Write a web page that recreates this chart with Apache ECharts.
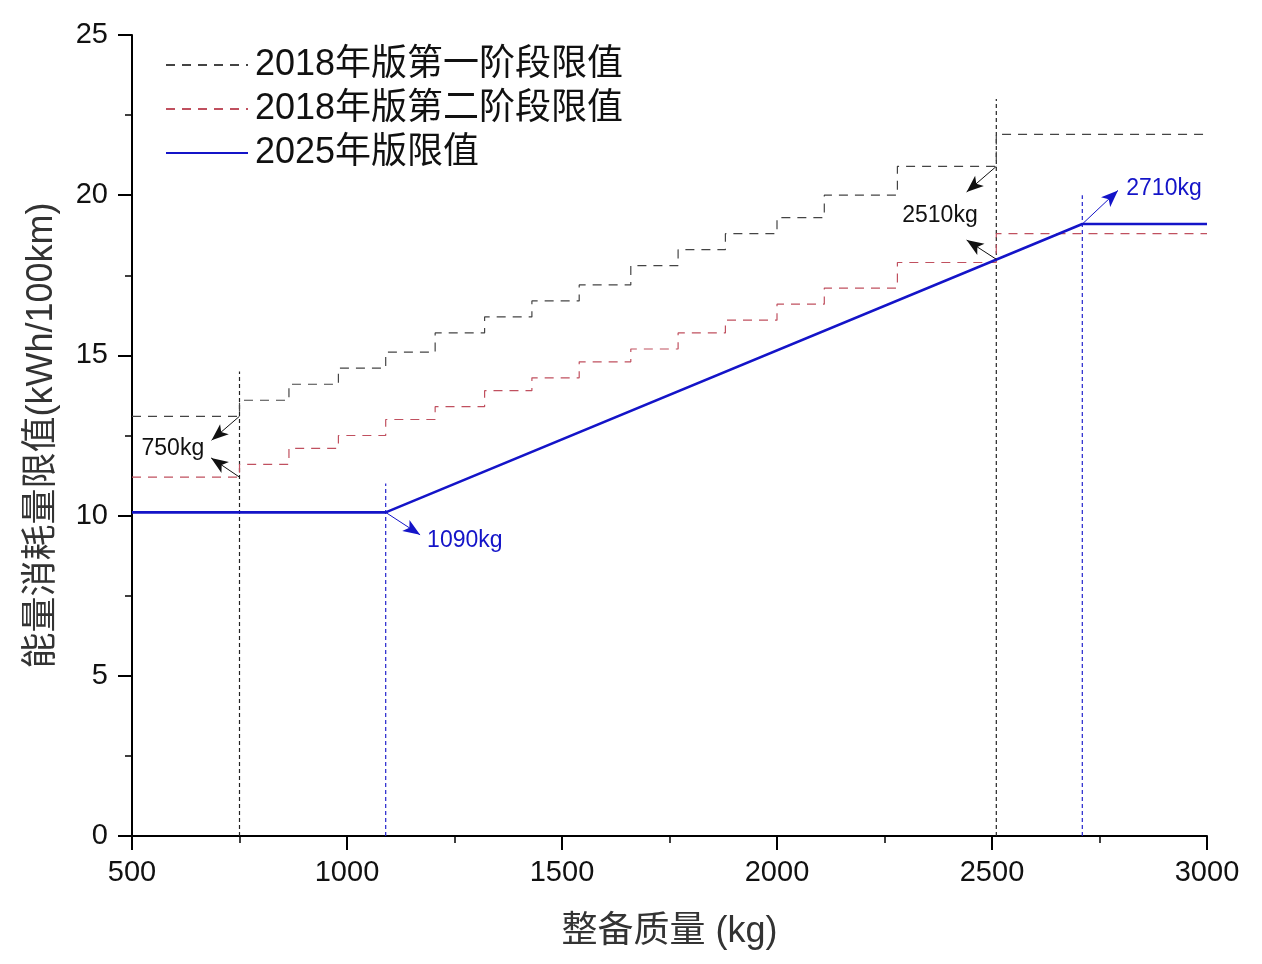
<!DOCTYPE html>
<html>
<head>
<meta charset="utf-8">
<script src="https://cdn.jsdelivr.net/npm/echarts@6/dist/echarts.min.js"></script>
<style>
  html, body { margin: 0; padding: 0; background: #fff; }
  #chart { width: 1262px; height: 964px; }
</style>
</head>
<body>
<div id="chart"></div>
<script>
// mass bin starts (kg), last value closes the axis
const massBreaks = [500, 750, 865, 980, 1090, 1205, 1320, 1430, 1540, 1660, 1770, 1880, 2000, 2110, 2280, 2510, 3000];
const stage1 = [13.1, 13.6, 14.1, 14.6, 15.1, 15.7, 16.2, 16.7, 17.2, 17.8, 18.3, 18.8, 19.3, 20.0, 20.9, 21.9, 21.9];
const stage2 = [11.2, 11.6, 12.1, 12.5, 13.0, 13.4, 13.9, 14.3, 14.8, 15.2, 15.7, 16.1, 16.6, 17.1, 17.9, 18.8, 18.8];

const mass2025 = [500, 1090, 2710, 3000];
const limit2025 = [10.1, 10.1, 19.1, 19.1];

// vertical marker lines
const refMass = [750, 1090, 2510, 2710];
const refTop = [14.5, 11.0, 23.0, 20.0];
const refColor = ['#222', '#2222cc', '#222', '#2222cc'];

// annotation arrows [fromX, fromY, toX, toY]
const arrowsBlack = [[750, 13.1, 685, 12.35], [750, 11.2, 684, 11.8], [2510, 20.9, 2441, 20.1], [2510, 18.0, 2441, 18.6]];
const arrowsBlue = [[1090, 10.1, 1170, 9.4], [2710, 19.1, 2793, 20.15]];

// annotation labels
const labelBlack = [[595, 12.08, '750kg'], [2379, 19.35, '2510kg']];
const labelBlue = [[1274, 9.21, '1090kg'], [2900, 20.2, '2710kg']];

const FONT = "'Liberation Sans', 'Noto Sans CJK SC', sans-serif";

const zip = (xs, ys) => xs.map((x, i) => [x, ys[i]]);

const refSeries = refMass.map((m, i) => ({
  type: 'line',
  silent: true,
  symbol: 'none',
  data: [[m, 0], [m, refTop[i]]],
  lineStyle: { color: refColor[i], width: 1.2, type: [4, 3] },
  z: 1
}));

function arrowSeries(list, color) {
  return {
    type: 'line',
    silent: true,
    symbol: 'none',
    data: [],
    markLine: {
      silent: true,
      symbol: ['none', 'arrow'],
      symbolSize: [10, 17],
      label: { show: false },
      lineStyle: { color: color, width: 1, type: 'solid' },
      data: list.map(a => [{ coord: [a[0], a[1]] }, { coord: [a[2], a[3]] }])
    }
  };
}

function labelSeries(list, color) {
  return {
    type: 'scatter',
    silent: true,
    symbolSize: 0,
    itemStyle: { opacity: 1 },
    data: list.map(l => [l[0], l[1]]),
    label: {
      show: true,
      position: 'inside',
      formatter: p => list[p.dataIndex][2],
      color: color,
      fontSize: 23,
      fontFamily: FONT
    }
  };
}

const chart = echarts.init(document.getElementById('chart'));
chart.setOption({
  animation: false,
  backgroundColor: '#fff',
  grid: { left: 132, right: 55, top: 35, bottom: 128 },
  legend: {
    orient: 'vertical',
    left: 160,
    top: 42,
    itemWidth: 82,
    itemHeight: 14,
    itemGap: 8,
    itemStyle: { opacity: 0 },
    data: ['2018年版第一阶段限值', '2018年版第二阶段限值', '2025年版限值'],
    textStyle: { fontSize: 36, lineHeight: 36, color: '#111', fontFamily: FONT, padding: [0, 0, 0, 2] }
  },
  xAxis: {
    type: 'value',
    min: 500,
    max: 3000,
    interval: 500,
    name: '整备质量 (kg)',
    nameLocation: 'middle',
    nameGap: 78,
    nameTextStyle: { fontSize: 36, color: '#333', fontFamily: FONT },
    axisLine: { lineStyle: { color: '#000', width: 2 } },
    axisTick: { inside: false, length: 14, lineStyle: { color: '#000', width: 2 } },
    minorTick: { show: true, splitNumber: 2, length: 7, lineStyle: { color: '#000', width: 1.5 } },
    axisLabel: { margin: 22, fontSize: 29, color: '#111', fontFamily: FONT, formatter: v => String(v) },
    splitLine: { show: false }
  },
  yAxis: {
    type: 'value',
    min: 0,
    max: 25,
    interval: 5,
    name: '能量消耗量限值(kWh/100km)',
    nameLocation: 'middle',
    nameGap: 72,
    nameTextStyle: { fontSize: 36, color: '#333', fontFamily: FONT },
    axisLine: { show: true, lineStyle: { color: '#000', width: 2 } },
    axisTick: { show: true, inside: false, length: 14, lineStyle: { color: '#000', width: 2 } },
    minorTick: { show: true, splitNumber: 2, length: 7, lineStyle: { color: '#000', width: 1.5 } },
    axisLabel: { margin: 24, fontSize: 29, color: '#111', fontFamily: FONT },
    splitLine: { show: false }
  },
  series: [
    {
      name: '2018年版第一阶段限值',
      type: 'line',
      step: 'end',
      symbol: 'none',
      data: zip(massBreaks, stage1),
      lineStyle: { color: '#444', width: 1.2, type: [9, 7] },
      itemStyle: { color: '#444' },
      z: 3
    },
    {
      name: '2018年版第二阶段限值',
      type: 'line',
      step: 'end',
      symbol: 'none',
      data: zip(massBreaks, stage2),
      lineStyle: { color: '#c0505f', width: 1.2, type: [9, 7] },
      itemStyle: { color: '#c0505f' },
      z: 3
    },
    {
      name: '2025年版限值',
      type: 'line',
      symbol: 'none',
      data: zip(mass2025, limit2025),
      lineStyle: { color: '#1414c8', width: 2.6 },
      itemStyle: { color: '#1414c8' },
      z: 4
    },
    ...refSeries,
    arrowSeries(arrowsBlack, '#111'),
    arrowSeries(arrowsBlue, '#1414c8'),
    labelSeries(labelBlack, '#111'),
    labelSeries(labelBlue, '#1414c8')
  ]
});
</script>
</body>
</html>
